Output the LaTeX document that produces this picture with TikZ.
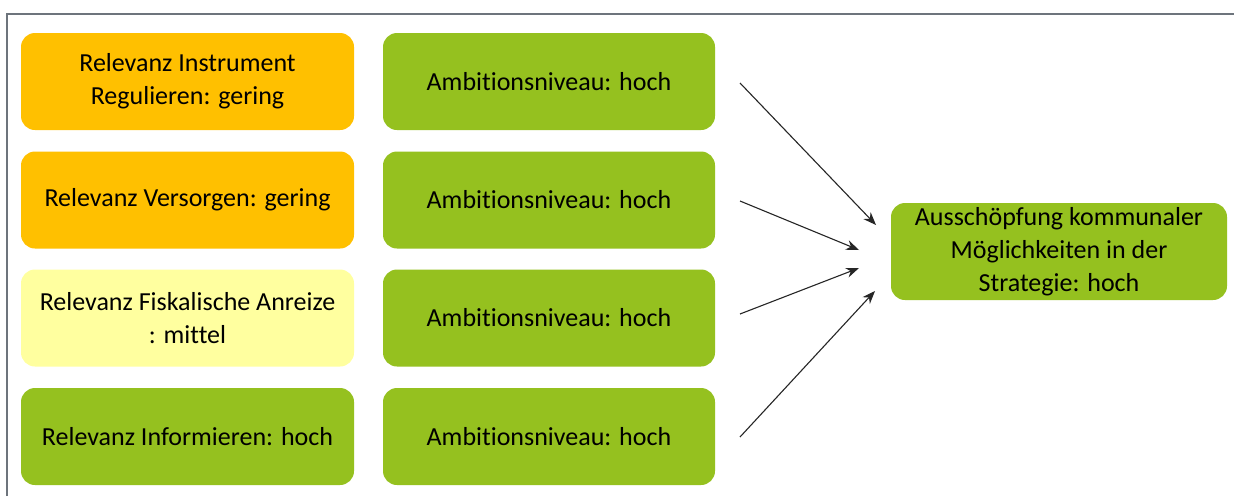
\documentclass[tikz,border=0pt]{standalone}
\usepackage{fontspec}
\setmainfont{Carlito}[Ligatures=NoCommon]
\usetikzlibrary{arrows.meta}
\definecolor{frameg}{HTML}{6D747C}
\definecolor{orangebox}{HTML}{FFC000}
\definecolor{greenbox}{HTML}{95C11F}
\definecolor{yellowbox}{HTML}{FFFF9F}
\begin{document}
\begin{tikzpicture}[x=1pt,y=-1pt,
  box/.style={rounded corners=14pt, inner sep=0pt, align=center,
    font=\fontsize{26}{33}\selectfont, text=black},
  arrowline/.style={draw=black!85, line width=1.1pt, -{Stealth[length=13pt,width=10pt]}}]
\useasboundingbox (0,0) rectangle (1234,496);
\fill[white] (0,0) rectangle (1234,496);
% outer frame (top and left edges only)
\draw[frameg, line width=2pt] (7,496) -- (7,14) -- (1234,14);

% relevance column
\node[box, fill=orangebox, minimum width=333pt, minimum height=97pt] (r1) at (187.5,81.5) {Relevanz Instrument\\Regulieren: gering};
\node[box, fill=orangebox, minimum width=333pt, minimum height=97pt] (r2) at (187.5,200) {Relevanz Versorgen: gering};
\node[box, fill=yellowbox, minimum width=333pt, minimum height=97pt] (r3) at (187.5,318) {Relevanz Fiskalische Anreize\\: mittel};
\node[box, fill=greenbox, minimum width=333pt, minimum height=97pt] (r4) at (187.5,436.5) {Relevanz Informieren: hoch};

% ambition column
\node[box, fill=greenbox, minimum width=332pt, minimum height=97pt] (a1) at (549,81.5) {Ambitionsniveau: hoch};
\node[box, fill=greenbox, minimum width=332pt, minimum height=97pt] (a2) at (549,200) {Ambitionsniveau: hoch};
\node[box, fill=greenbox, minimum width=332pt, minimum height=97pt] (a3) at (549,318) {Ambitionsniveau: hoch};
\node[box, fill=greenbox, minimum width=332pt, minimum height=97pt] (a4) at (549,436.5) {Ambitionsniveau: hoch};

% result
\node[box, fill=greenbox, minimum width=336pt, minimum height=97pt] (res) at (1059,251.5) {Ausschöpfung kommunaler\\Möglichkeiten in der\\Strategie: hoch};

% connector end points
\coordinate (s1) at (740,83);
\coordinate (s2) at (740,201);
\coordinate (s3) at (740,314);
\coordinate (s4) at (740,437);
\coordinate (e1) at (876,225);
\coordinate (e2) at (859,250);
\coordinate (e3) at (859,268);
\coordinate (e4) at (875,291);

\draw[arrowline] (s1) -- (e1);
\draw[arrowline] (s2) -- (e2);
\draw[arrowline] (s3) -- (e3);
\draw[arrowline] (s4) -- (e4);
\end{tikzpicture}
\end{document}
